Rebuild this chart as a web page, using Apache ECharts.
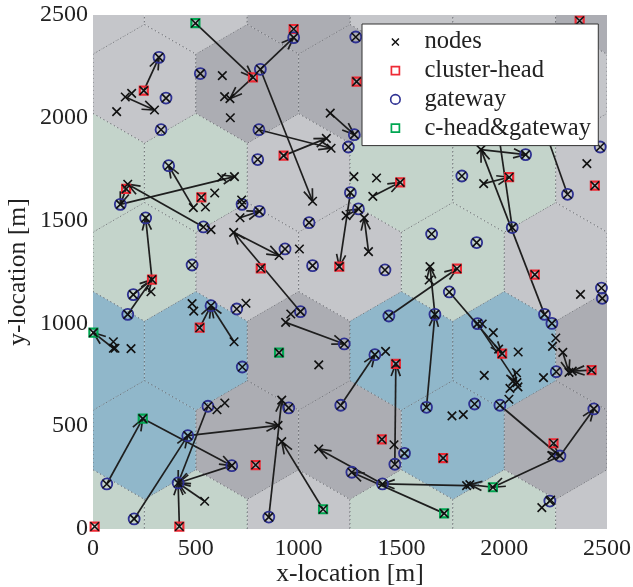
<!DOCTYPE html>
<html>
<head>
<meta charset="utf-8">
<style>html,body{margin:0;padding:0;background:#fff}#c{width:633px;height:587px}</style>
<script src="https://cdn.jsdelivr.net/npm/echarts@6/dist/echarts.min.js"></script>
</head>
<body>
<div id="c"></div>
<script>
var xTicks = ['0', '500', '1000', '1500', '2000', '2500'];
var lightCells = [[0,2598],[500,2598],[1500,2598],[2000,2598],[250,2165],[1750,2165],[2250,2165],[1000,1732],[2500,1732],[750,1299],[1250,1299],[2250,1299],[1000,0],[2500,0]];
var darkCells = [[1000,2598],[2500,2598],[750,2165],[1250,2165],[1000,866],[2500,866],[750,433],[1250,433],[2250,433]];
var greenCells = [[0,1732],[500,1732],[1500,1732],[2000,1732],[250,1299],[1750,1299],[0,0],[500,0],[1500,0],[2000,0]];
var blueCells = [[0,866],[500,866],[1500,866],[2000,866],[250,433],[1750,433]];

var clusterHeads = [[247,2132],[778,2197],[976,2432],[1282,2176],[927,1816],[161,1654],[527,1613],[816,1268],[1198,1276],[2367,2472],[2024,1711],[1494,1686],[2441,1670],[1770,1266],[2149,1237],[1473,803],[1990,853],[2425,773],[2240,417],[1405,436],[1703,345],[287,1213],[519,979],[791,311],[420,12],[8,12]];
var cHeadGateways = [[498,2460],[1945,203],[1708,76],[2,955],[905,858],[242,537],[1119,96]];
var gateways = [[321,2294],[522,2215],[355,2096],[331,1942],[814,2236],[976,2390],[1278,2393],[807,1942],[801,1797],[1271,1918],[1242,1858],[368,1767],[133,1579],[1252,1636],[1291,1557],[725,1579],[809,1545],[537,1469],[256,1513],[1051,1490],[934,1362],[1068,1281],[482,1284],[2104,1821],[2467,1858],[1794,1717],[2308,1628],[2039,1466],[1647,1435],[1866,1393],[1420,1260],[2473,1172],[2477,1122],[1733,1153],[1439,1036],[1663,1044],[2196,1044],[2232,1000],[1870,999],[2253,765],[1371,848],[1222,900],[1205,602],[1622,592],[1856,608],[1979,602],[2436,584],[2271,355],[1515,368],[1468,315],[1259,276],[1408,219],[2222,136],[196,1140],[169,1044],[574,1086],[699,1070],[1009,1057],[726,788],[559,597],[952,589],[461,454],[675,308],[67,219],[414,224],[200,49],[855,58]];
var plainNodes = [[629,2205],[640,2103],[666,2093],[668,2000],[188,2119],[157,2101],[115,2030],[299,2038],[1154,2023],[1135,1900],[1158,1852],[1269,1714],[626,1711],[688,1714],[169,1677],[592,1634],[488,1563],[547,1566],[723,1600],[715,1514],[574,1456],[684,1443],[905,1330],[1004,1362],[1068,1594],[1231,1524],[1887,1845],[2402,1777],[1900,1680],[1379,1707],[1361,1618],[1319,1513],[1340,1349],[1639,1276],[1635,1211],[2371,1141],[1423,864],[2251,929],[2235,888],[2285,859],[1947,955],[1893,997],[2068,861],[1973,875],[1903,747],[2060,760],[2042,718],[2062,712],[2067,691],[2028,684],[2023,631],[2191,736],[2315,762],[2331,768],[1746,550],[1801,556],[1464,410],[2232,357],[1833,216],[1817,211],[2183,104],[282,1154],[482,1096],[490,1060],[744,1098],[962,1046],[937,1005],[686,911],[99,911],[99,879],[107,879],[185,877],[1098,798],[641,613],[603,580],[918,627],[900,504],[918,425],[1098,389],[543,135],[1963,1989],[2174,2006],[2226,141]];
var arrows = [
[247,2132,321,2294],[498,2460,778,2197],[814,2236,976,2390],[778,2197,666,2093],[814,2236,1068,1594],[157,2101,299,2038],
[807,1942,1158,1852],[927,1816,1135,1900],[1154,2023,1271,1918],[133,1579,688,1714],[161,1654,133,1579],[537,1469,169,1677],
[488,1563,368,1767],[715,1514,809,1545],[1009,1057,684,1443],[684,1443,905,1330],[196,1140,287,1213],[169,1044,287,1213],
[287,1213,256,1513],[686,911,574,1086],[519,979,574,1086],[99,879,2,955],[937,1005,1222,900],[67,219,242,537],[242,537,675,308],
[675,308,414,224],[200,49,461,454],[559,597,414,224],[461,454,900,504],[543,135,414,224],[420,12,414,224],[855,58,918,627],
[1119,96,918,425],[1205,602,1371,848],[1439,1036,1770,1266],[1622,592,1663,1044],[1663,1044,1639,1276],[1468,315,1473,803],
[1733,1153,1990,853],[1870,999,2062,712],[2196,1044,1887,1845],[2039,1466,1963,1989],[2308,1628,2174,2006],[1887,1845,2104,1821],
[1900,1680,2024,1711],[1361,1618,1494,1686],[1252,1636,1198,1276],[1340,1349,1319,1513],[1231,1524,1291,1557],[1979,602,2271,355],
[2271,355,2436,584],[2271,355,1945,203],[1945,203,1833,216],[1817,211,1408,219],[1708,76,1259,276],[1408,219,1098,389],
[2425,773,2331,768],[2285,859,2315,762]
];

var SERIF = '"Liberation Serif", "Times New Roman", serif';
var HEX_R = 288.7, HEX_W = 250;
var cellColors = {light:'#c5c6ca', dark:'#acadb3', green:'#c4d4cb', blue:'#90b7ca'};
var X_PATH = 'path://M0 0L10 10M10 0L0 10';

function hexSeries(cells, color) {
  return {
    type:'custom', coordinateSystem:'cartesian2d', clip:true, z:1, silent:true,
    encode:{x:0,y:1}, data:cells, legendHoverLink:false,
    renderItem:function(params, api){
      var cx = api.value(0), cy = api.value(1);
      var v = [[cx,cy+HEX_R],[cx+HEX_W,cy+HEX_R/2],[cx+HEX_W,cy-HEX_R/2],[cx,cy-HEX_R],[cx-HEX_W,cy-HEX_R/2],[cx-HEX_W,cy+HEX_R/2]];
      return {type:'polygon', shape:{points:v.map(function(p){return api.coord(p);})},
        style:{fill:color, stroke:'#5f6166', lineWidth:0.9, lineDash:[1,3]}};
    }
  };
}

var arrowSeries = {
  type:'custom', coordinateSystem:'cartesian2d', clip:false, z:2, silent:true,
  encode:{x:[0,2],y:[1,3]}, data:arrows,
  renderItem:function(params, api){
    var a = api.coord([api.value(0),api.value(1)]), b = api.coord([api.value(2),api.value(3)]);
    var ang = Math.atan2(a[1]-b[1], a[0]-b[0]), L = 13, S = 0.36;
    var p1 = [b[0]+L*Math.cos(ang+S), b[1]+L*Math.sin(ang+S)];
    var p2 = [b[0]+L*Math.cos(ang-S), b[1]+L*Math.sin(ang-S)];
    var st = {stroke:'#1e1e1e', lineWidth:1.7, fill:'none'};
    return {type:'group', children:[
      {type:'line', shape:{x1:a[0],y1:a[1],x2:b[0],y2:b[1]}, style:st},
      {type:'polyline', shape:{points:[p1,b,p2]}, style:st}
    ]};
  }
};

function markerSeries(name, data, symbol, size, color, width, z) {
  return {type:'scatter', name:name, data:data, symbol:symbol, symbolSize:size, z:z, silent:true,
    itemStyle:{color:'none', borderColor:color, borderWidth:width, opacity:1}};
}

var allNodes = plainNodes.concat(clusterHeads, gateways, cHeadGateways);
var RED='#ee2a35', BLUE='#2e3192', GREEN='#00a651', INK='#111';
function icon(name, path, color, width){
  return {name:name, icon:path, itemStyle:{color:'none', borderColor:color, borderWidth:width}};
}

var chart = echarts.init(document.getElementById('c'), null, {renderer:'canvas'});
chart.setOption({
  animation:false,
  backgroundColor:'#fff',
  grid:{left:93, right:26, top:15, bottom:58, outerBoundsMode:'none'},
  xAxis:{type:'value', min:0, max:2500, interval:500,
    axisLine:{show:false}, axisTick:{show:false}, splitLine:{show:false},
    axisLabel:{fontFamily:SERIF, fontSize:24, color:'#222', margin:8, showMinLabel:true, showMaxLabel:true,
      formatter:function(v){return xTicks[v/500];}},
    name:'x-location [m]', nameLocation:'middle', nameGap:32, nameMoveOverlap:false,
    nameTextStyle:{fontFamily:SERIF, fontSize:25.7, color:'#222'}},
  yAxis:{type:'value', min:0, max:2500, interval:500,
    axisLine:{show:false}, axisTick:{show:false}, splitLine:{show:false},
    axisLabel:{fontFamily:SERIF, fontSize:24, color:'#222', margin:5, showMinLabel:true, showMaxLabel:true,
      formatter:function(v){return xTicks[v/500];}},
    name:'y-location [m]', nameLocation:'middle', nameGap:62, nameMoveOverlap:false,
    nameTextStyle:{fontFamily:SERIF, fontSize:25.7, color:'#222'}},
  legend:{
    show:true, orient:'vertical', left:362, top:24, selectedMode:false,
    itemWidth:48, itemHeight:11, itemGap:3.7, padding:[5.5,7.3,5,25.4],
    backgroundColor:'#fff', borderColor:'#333', borderWidth:1, z:10,
    textStyle:{fontFamily:SERIF, fontSize:24.6, color:'#222'},
    data:[
      icon('nodes','path://M2 2L9 9M9 2L2 9M0 0M11 11',INK,1.5),
      icon('cluster-head','path://M1.5 1.5L9.5 1.5L9.5 9.5L1.5 9.5Z M0 0M11 11',RED,1.7),
      icon('gateway','path://M0.75 5.5a4.75 4.75 0 1 0 9.5 0a4.75 4.75 0 1 0 -9.5 0 M0 0M11 11',BLUE,1.6),
      icon('c-head&gateway','path://M1.5 1.5L9.5 1.5L9.5 9.5L1.5 9.5Z M0 0M11 11',GREEN,1.7)
    ]
  },
  series:[
    hexSeries(lightCells, cellColors.light),
    hexSeries(darkCells, cellColors.dark),
    hexSeries(greenCells, cellColors.green),
    hexSeries(blueCells, cellColors.blue),
    arrowSeries,
    markerSeries('cluster-head', clusterHeads, 'rect', 8, RED, 2.2, 3),
    markerSeries('gateway', gateways, 'circle', 11, BLUE, 1.8, 3),
    markerSeries('c-head&gateway', cHeadGateways, 'rect', 8, GREEN, 2.2, 3),
    markerSeries('nodes', allNodes, X_PATH, 8.5, INK, 1.6, 4)
  ]
});
</script>
</body>
</html>
